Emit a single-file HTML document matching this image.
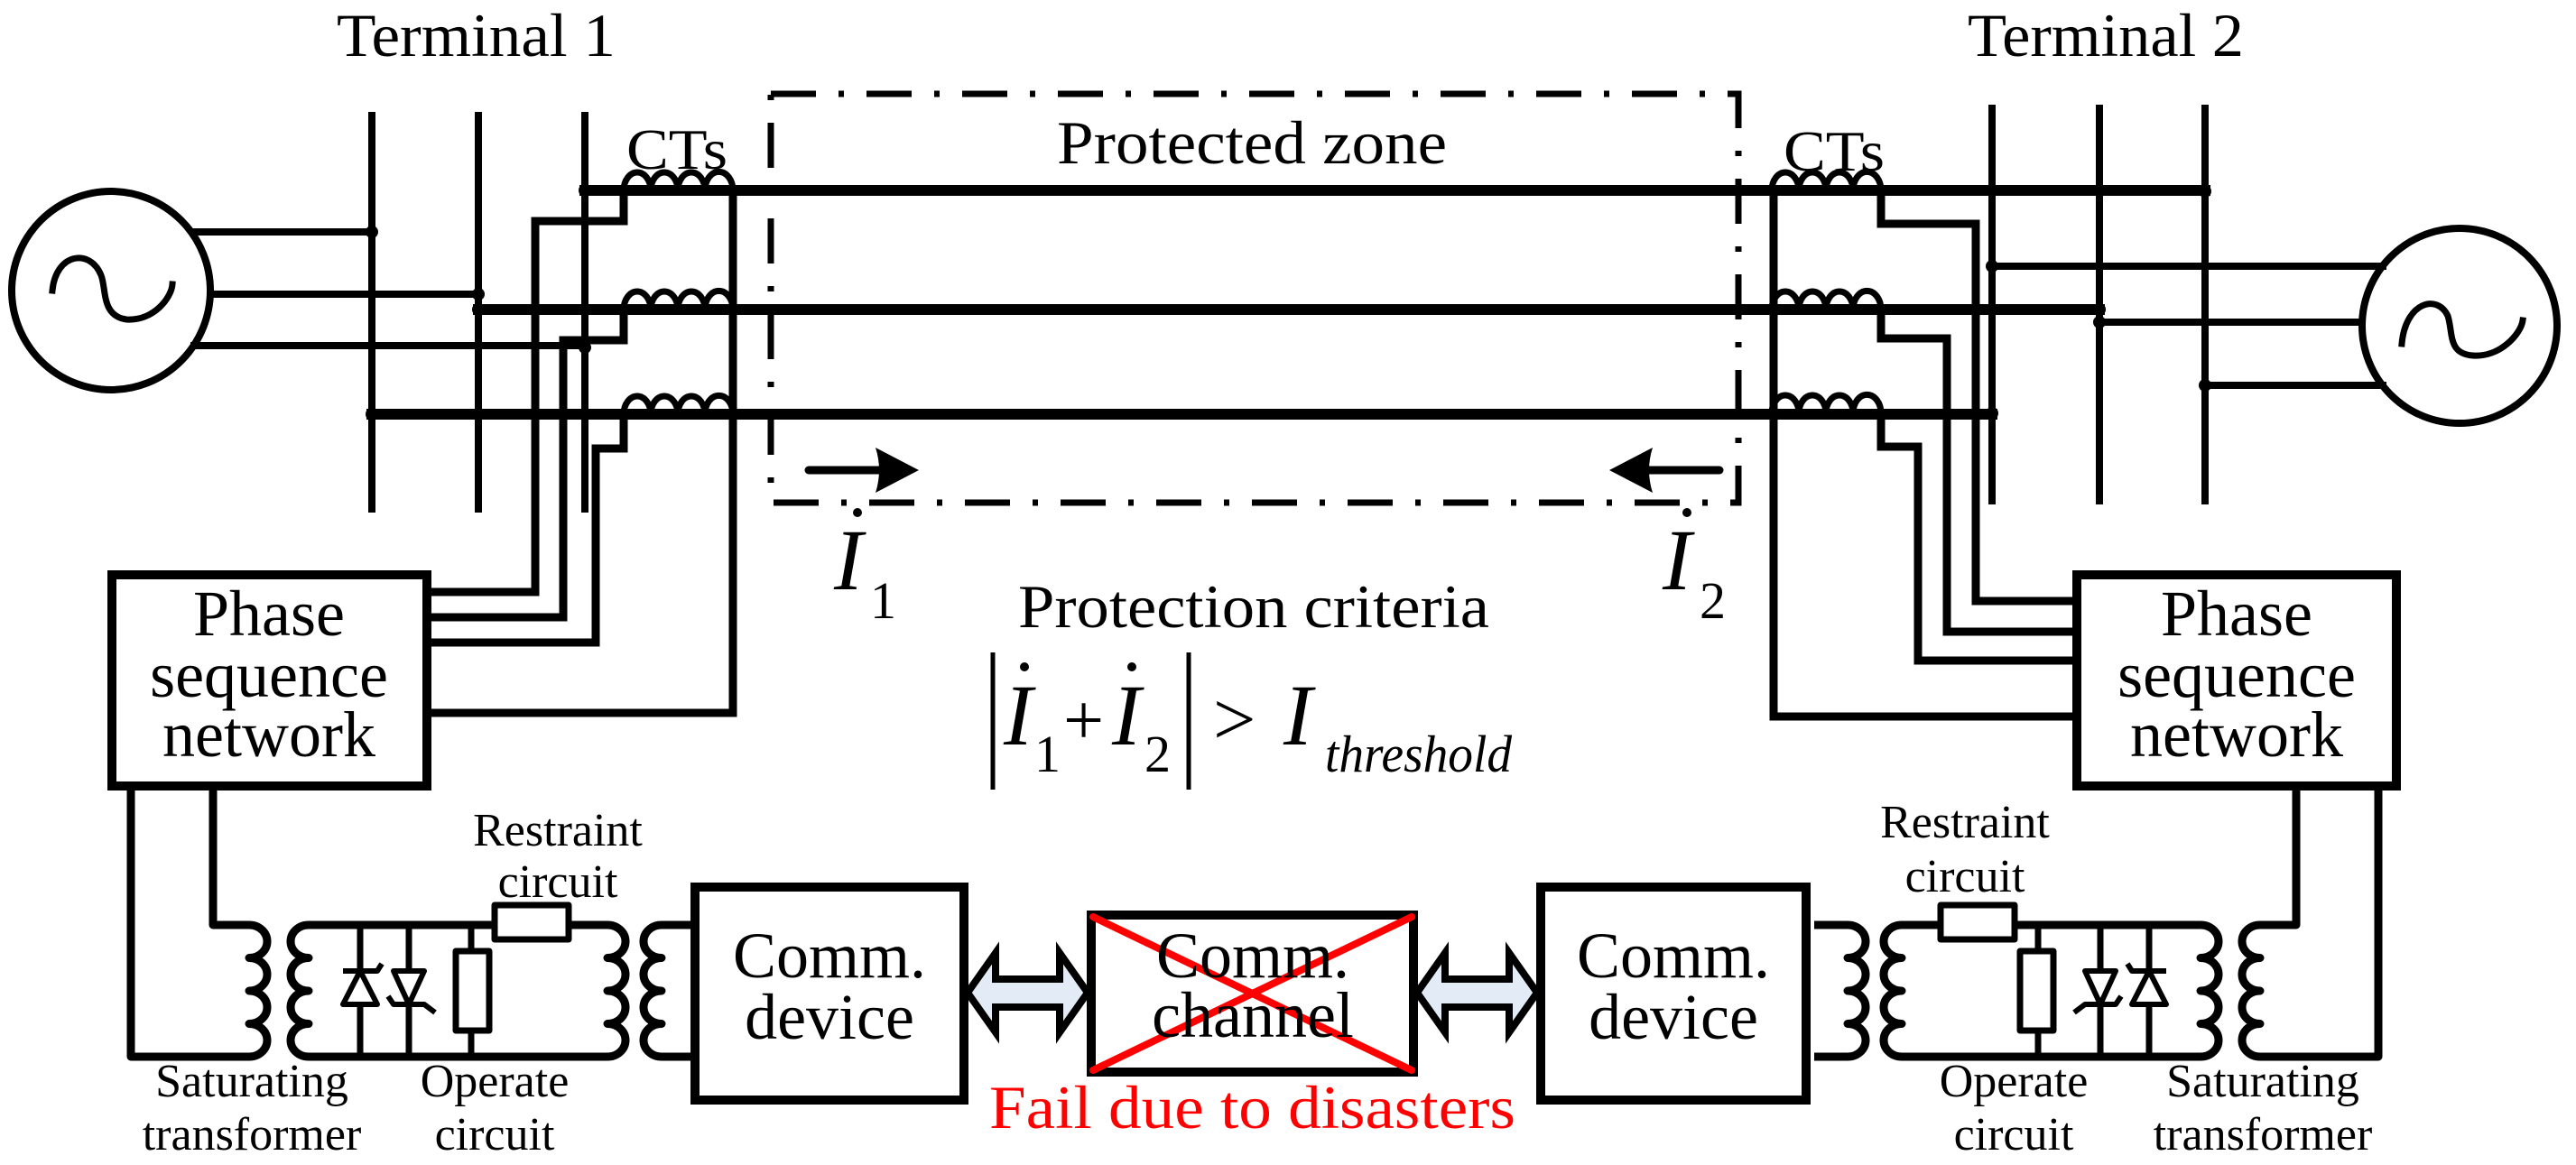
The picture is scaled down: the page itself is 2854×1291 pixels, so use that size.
<!DOCTYPE html>
<html><head><meta charset="utf-8"><style>
html,body{margin:0;padding:0;background:#fff;}
svg{display:block;}
svg text{font-family:"Liberation Serif","Times New Roman",serif;fill:#000;}
</style></head><body>
<svg width="2854" height="1291" viewBox="0 0 2854 1291" xmlns="http://www.w3.org/2000/svg" font-family="'Liberation Serif', serif">
<rect width="2854" height="1291" fill="#fff"/>
<g fill="none" stroke="#000" stroke-linecap="square" stroke-linejoin="miter">
<circle cx="123" cy="322" r="110" stroke-width="8"/>
<path d="M58,322 C62,280 100,275 112,305 C118,320 112,350 140,354 C170,356 190,330 191,315" stroke-width="7"/>
<circle cx="2725" cy="361" r="108" stroke-width="8"/>
<path d="M2661,381 C2665,335 2700,325 2712,350 C2718,370 2712,392 2740,394 C2770,396 2793,370 2795,355" stroke-width="7"/>
<g stroke-width="8">
<line x1="412" y1="128" x2="412" y2="564"/><line x1="530" y1="128" x2="530" y2="564"/><line x1="648" y1="128" x2="648" y2="564"/>
<line x1="2207" y1="120" x2="2207" y2="555"/><line x1="2326" y1="120" x2="2326" y2="555"/><line x1="2443" y1="120" x2="2443" y2="555"/>
<line x1="215" y1="257" x2="412" y2="257"/><line x1="233" y1="326" x2="530" y2="326"/><line x1="215" y1="383" x2="648" y2="383"/>
<line x1="2207" y1="295" x2="2640" y2="295"/><line x1="2326" y1="357" x2="2616" y2="357"/><line x1="2443" y1="427" x2="2640" y2="427"/>
</g>
<g stroke-width="12">
<line x1="648" y1="211" x2="2443" y2="211"/>
<line x1="530" y1="343" x2="2326" y2="343"/>
<line x1="412" y1="459" x2="2207" y2="459"/>
</g>
<g stroke-width="7">
<path d="M691,211 a15,20 0 0 1 30,0 a15,20 0 0 1 30,0 a15,20 0 0 1 30,0 a15,20 0 0 1 31,0"/>
<path d="M691,343 a15,20 0 0 1 30,0 a15,20 0 0 1 30,0 a15,20 0 0 1 30,0 a15,20 0 0 1 31,0"/>
<path d="M691,459 a15,20 0 0 1 30,0 a15,20 0 0 1 30,0 a15,20 0 0 1 30,0 a15,20 0 0 1 31,0"/>
<path d="M1963,211 a15,20 0 0 1 30,0 a15,20 0 0 1 30,0 a15,20 0 0 1 30,0 a15,20 0 0 1 31,0"/>
<path d="M1963,343 a15,20 0 0 1 30,0 a15,20 0 0 1 30,0 a15,20 0 0 1 30,0 a15,20 0 0 1 31,0"/>
<path d="M1963,458 a15,20 0 0 1 30,0 a15,20 0 0 1 30,0 a15,20 0 0 1 30,0 a15,20 0 0 1 31,0"/>
</g>
<g stroke-width="9">
<polyline points="691,211 691,245 593,245 593,656 473,656"/>
<polyline points="691,343 691,377 624,377 624,684 473,684"/>
<polyline points="691,459 691,497 660,497 660,712 473,712"/>
<polyline points="812,211 812,790 473,790"/>
<polyline points="1965,211 1965,794 2301,794"/>
<polyline points="2084,211 2084,248 2189,248 2189,666 2301,666"/>
<polyline points="2084,343 2084,375 2157,375 2157,700 2301,700"/>
<polyline points="2084,458 2084,495 2125,495 2125,732 2301,732"/>
</g>
<rect x="854" y="104" width="1072" height="453" stroke-width="7" stroke-linecap="butt" stroke-dasharray="50 25 6 25"/>
<g stroke-width="10">
<rect x="124" y="637" width="349" height="234" fill="#fff"/>
<rect x="2301" y="637" width="354" height="234" fill="#fff"/>
<rect x="770" y="983" width="298" height="236"/>
<rect x="1707" y="983" width="294" height="236"/>
<rect x="1209" y="1014" width="357" height="174"/>
</g>
<path d="M1072,1100 L1103,1056 L1103,1085 L1174,1085 L1174,1056 L1205,1100 L1174,1144 L1174,1116 L1103,1116 L1103,1144 Z" fill="#e3ecf6" stroke-width="8"/>
<path d="M1570,1100 L1601,1056 L1601,1085 L1672,1085 L1672,1056 L1703,1100 L1672,1144 L1672,1116 L1601,1116 L1601,1144 Z" fill="#e3ecf6" stroke-width="8"/>
<line x1="896" y1="521" x2="985" y2="521" stroke-width="9" stroke-linecap="round"/>
<line x1="1905" y1="521" x2="1815" y2="521" stroke-width="9" stroke-linecap="round"/>
</g>
<path d="M1018,521 L970,496 Q978,521 970,546 Z" fill="#000"/>
<path d="M1783,521 L1831,496 Q1823,521 1831,546 Z" fill="#000"/>
<g fill="#000">
<circle cx="412" cy="257" r="7"/><circle cx="530" cy="326" r="7"/><circle cx="530" cy="343" r="7"/><circle cx="648" cy="385" r="7"/><circle cx="412" cy="459" r="7"/><circle cx="648" cy="211" r="7"/>
<circle cx="2443" cy="212" r="7"/><circle cx="2207" cy="295" r="7"/><circle cx="2326" cy="343" r="7"/><circle cx="2326" cy="357" r="7"/><circle cx="2443" cy="427" r="7"/><circle cx="2207" cy="458" r="7"/>
</g>

<g id="relay" fill="none" stroke="#000" stroke-width="9" stroke-linejoin="round">
<polyline points="145,871 145,1171 276,1171"/>
<polyline points="236,871 236,1025 276,1025"/>
<path d="M276,1025 a20,18.25 0 0 1 0,36.5 a20,18.25 0 0 1 0,36.5 a20,18.25 0 0 1 0,36.5 a20,18.25 0 0 1 0,36.5"/>
<path d="M342,1025 a20,18.25 0 0 0 0,36.5 a20,18.25 0 0 0 0,36.5 a20,18.25 0 0 0 0,36.5 a20,18.25 0 0 0 0,36.5"/>
<line x1="342" y1="1025" x2="673" y2="1025"/>
<line x1="342" y1="1171" x2="673" y2="1171"/>
<path d="M673,1025 a20,18.25 0 0 1 0,36.5 a20,18.25 0 0 1 0,36.5 a20,18.25 0 0 1 0,36.5 a20,18.25 0 0 1 0,36.5"/>
<path d="M733,1025 a20,18.25 0 0 0 0,36.5 a20,18.25 0 0 0 0,36.5 a20,18.25 0 0 0 0,36.5 a20,18.25 0 0 0 0,36.5"/>
<line x1="733" y1="1025" x2="770" y2="1025"/>
<line x1="733" y1="1171" x2="770" y2="1171"/>
<line x1="399" y1="1025" x2="399" y2="1171" stroke-width="7"/>
<line x1="453" y1="1025" x2="453" y2="1171" stroke-width="7"/>
<path d="M380,1113 L418,1113 L399,1076 Z" fill="#fff" stroke-width="6"/>
<path d="M380,1076 L418,1076 L423,1068" stroke-width="6"/>
<path d="M436,1076 L470,1076 L453,1113 Z" fill="#fff" stroke-width="6"/>
<path d="M430,1104 L436,1113 L470,1113 L482,1122" stroke-width="6"/>
<line x1="522" y1="1025" x2="522" y2="1171" stroke-width="7"/>
<rect x="505" y="1054" width="37" height="88" fill="#fff" stroke-width="7"/>
<rect x="548" y="1003" width="82" height="38" fill="#fff" stroke-width="7"/>
</g>
<use href="#relay" transform="translate(2780,0) scale(-1,1)"/>

<g stroke="#ff0000" stroke-width="8" stroke-linecap="round">
<line x1="1211" y1="1016" x2="1564" y2="1186"/>
<line x1="1564" y1="1016" x2="1211" y2="1186"/>
</g>

<text x="373" y="62" font-size="68" font-family="'Liberation Serif', serif" textLength="309" lengthAdjust="spacingAndGlyphs">Terminal 1</text>
<text x="2180" y="62" font-size="68" font-family="'Liberation Serif', serif" textLength="306" lengthAdjust="spacingAndGlyphs">Terminal 2</text>
<text x="694" y="187" font-size="64" font-family="'Liberation Serif', serif" textLength="112" lengthAdjust="spacingAndGlyphs">CTs</text>
<text x="1976" y="189" font-size="64" font-family="'Liberation Serif', serif" textLength="112" lengthAdjust="spacingAndGlyphs">CTs</text>
<text x="1171" y="181" font-size="68" font-family="'Liberation Serif', serif" textLength="432" lengthAdjust="spacingAndGlyphs">Protected zone</text>

<g font-size="72" text-anchor="middle" font-family="'Liberation Serif', serif">
<text x="298" y="704">Phase</text><text x="298" y="772">sequence</text><text x="298" y="838">network</text>
<text x="2478" y="704">Phase</text><text x="2478" y="772">sequence</text><text x="2478" y="838">network</text>
<text x="919" y="1083">Comm.</text><text x="919" y="1151">device</text>
<text x="1854" y="1083">Comm.</text><text x="1854" y="1151">device</text>
<text x="1388" y="1083">Comm.</text><text x="1388" y="1149">channel</text>
</g>
<text x="1128" y="695" font-size="68" font-family="'Liberation Serif', serif" textLength="522" lengthAdjust="spacingAndGlyphs">Protection criteria</text>
<text x="1096" y="1250" font-size="68" font-family="'Liberation Serif', serif" fill="#ff0000" style="fill:#ff0000" textLength="583" lengthAdjust="spacingAndGlyphs">Fail due to disasters</text>

<g font-size="52" text-anchor="middle" font-family="'Liberation Serif', serif">
<text x="618" y="937">Restraint</text><text x="618" y="994">circuit</text>
<text x="279" y="1215">Saturating</text><text x="279" y="1274">transformer</text>
<text x="548" y="1215">Operate</text><text x="548" y="1274">circuit</text>
<text x="2177" y="928">Restraint</text><text x="2177" y="988">circuit</text>
<text x="2231" y="1215">Operate</text><text x="2231" y="1274">circuit</text>
<text x="2507" y="1215">Saturating</text><text x="2507" y="1274">transformer</text>
</g>

<g fill="#000">
<circle cx="950" cy="568" r="5"/><circle cx="1869" cy="568" r="5"/>
<circle cx="1135" cy="739" r="5"/><circle cx="1254" cy="739" r="5"/>
</g>
<g font-family="'Liberation Serif', serif">
<text x="924" y="653" font-size="96" font-style="italic">I</text>
<text x="964" y="685" font-size="58">1</text>
<text x="1842" y="653" font-size="96" font-style="italic">I</text>
<text x="1883" y="685" font-size="58">2</text>
<text x="1112" y="825" font-size="96" font-style="italic">I</text>
<text x="1146" y="855" font-size="58">1</text>
<text x="1178" y="825" font-size="80">+</text>
<text x="1232" y="825" font-size="96" font-style="italic">I</text>
<text x="1268" y="855" font-size="58">2</text>
<text x="1344" y="825" font-size="84">&gt;</text>
<text x="1422" y="825" font-size="96" font-style="italic">I</text>
<text x="1468" y="855" font-size="58" font-style="italic" textLength="207" lengthAdjust="spacingAndGlyphs">threshold</text>
</g>
<line x1="1100" y1="723" x2="1100" y2="875" stroke="#000" stroke-width="5"/>
<line x1="1317" y1="723" x2="1317" y2="875" stroke="#000" stroke-width="5"/>
</svg>
</body></html>
